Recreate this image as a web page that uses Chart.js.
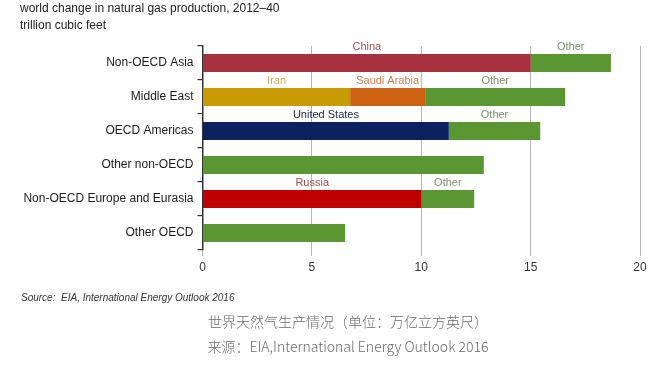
<!DOCTYPE html>
<html>
<head>
<meta charset="utf-8">
<script src="https://cdn.jsdelivr.net/npm/chart.js@4/dist/chart.umd.min.js"></script>
<style>
  body{margin:0;background:#fff;}
  #wrap{position:relative;width:664px;height:386px;overflow:hidden;background:#fff;}
  #c{position:absolute;left:0;top:0;}
  .t{position:absolute;font-family:"Liberation Sans",Arial,sans-serif;color:#222;white-space:nowrap;}
  .cn{position:absolute;left:148px;width:400px;text-align:center;font-family:"Noto Sans CJK SC","Noto Sans",sans-serif;font-size:14px;line-height:18px;color:#6a6a6a;font-weight:300;white-space:nowrap;}
</style>
</head>
<body>
<div id="wrap">
  <canvas id="c" width="664" height="386"></canvas>
  <div class="t" style="left:20px;top:1px;font-size:12px;line-height:14px;">world change in natural gas production, 2012–40</div>
  <div class="t" style="left:20px;top:18px;font-size:12px;line-height:14px;">trillion cubic feet</div>
  <div class="t" style="left:21px;top:292px;font-size:10px;line-height:12px;font-style:italic;color:#333;">Source:&nbsp; EIA, International Energy Outlook 2016</div>
  <div class="cn" style="top:312px;">世界天然气生产情况（单位：万亿立方英尺）</div>
  <div class="cn" style="top:337px;">来源：EIA,International Energy Outlook 2016</div>
</div>
<script>
// rows, top to bottom
const regions=['Non-OECD Asia','Middle East','OECD Americas','Other non-OECD','Non-OECD Europe and Eurasia','Other OECD'];
// segments (trillion cubic feet)
const china=[15.0,null,null,null,null,null];
const iran=[null,6.75,null,null,null,null];
const saudiArabia=[null,3.43,null,null,null,null];
const unitedStates=[null,null,11.26,null,null,null];
const russia=[null,null,null,null,10.01,null];
const other=[3.67,6.4,4.18,12.86,2.41,6.52];
const otherTags=['Other','Other','Other',null,'Other',null];
const xTicks=[0,5,10,15,20];

function tags(name,vals){ return vals.map(v=>v==null?null:name); }

// names written just above each segment
const segLabels={
  id:'segLabels',
  afterDatasetsDraw(chart){
    let ctx=chart.ctx;
    chart.data.datasets.forEach((ds,i)=>{
      chart.getDatasetMeta(i).data.forEach((bar,j)=>{
        let t=ds.tags[j]; if(!t) return;
        let p=bar.getProps(['x','y','base','height'],true);
        ctx.save();
        ctx.font='11px "Liberation Sans", Arial, sans-serif';
        ctx.fillStyle=ds.tagColor; ctx.textAlign='center'; ctx.textBaseline='middle';
        ctx.fillText(t,(p.x+p.base)/2,p.y-p.height/2-7);
        ctx.restore();
      });
    });
  }
};

function seg(name,vals,color,tagColor,tagList){
  return {label:name,data:vals,backgroundColor:color,borderWidth:0,tags:tagList||tags(name,vals),tagColor:tagColor,
          barPercentage:0.53,categoryPercentage:1};
}

new Chart(document.getElementById('c'),{
  type:'bar',
  data:{labels:regions,datasets:[
    seg('China',china,'#a6313f','#a2505a'),
    seg('Iran',iran,'#c99b02','#d6a955'),
    seg('Saudi Arabia',saudiArabia,'#cc6111','#cf7d4c'),
    seg('United States',unitedStates,'#0c2160','#1c2844'),
    seg('Russia',russia,'#c00000','#a34c4c'),
    seg('Other',other,'#5a9632','#7a8f6c',otherTags)
  ]},
  options:{
    indexAxis:'y',responsive:false,animation:false,devicePixelRatio:1,
    layout:{padding:{top:46,right:24,bottom:105,left:0}},
    plugins:{legend:{display:false},tooltip:{enabled:false}},
    scales:{
      x:{stacked:true,min:0,max:20,
        afterBuildTicks:s=>{s.ticks=xTicks.map(v=>({value:v}));},
        afterFit:s=>{s.height=31;},
        border:{display:false},
        grid:{color:'#b5b5b5',lineWidth:1,tickLength:6,tickColor:'#b5b5b5'},
        ticks:{padding:4,color:'#333',font:{family:'"Liberation Sans", Arial, sans-serif',size:12}}},
      y:{stacked:true,
        afterFit:s=>{s.width=202.5;},
        border:{color:'#333',width:1.5},
        grid:{drawOnChartArea:false,tickLength:5,tickColor:'#333',lineWidth:1.2},
        ticks:{padding:4,color:'#1a1a1a',font:{family:'"Liberation Sans", Arial, sans-serif',size:12}}}
    }
  },
  plugins:[segLabels]
});
</script>
</body>
</html>
